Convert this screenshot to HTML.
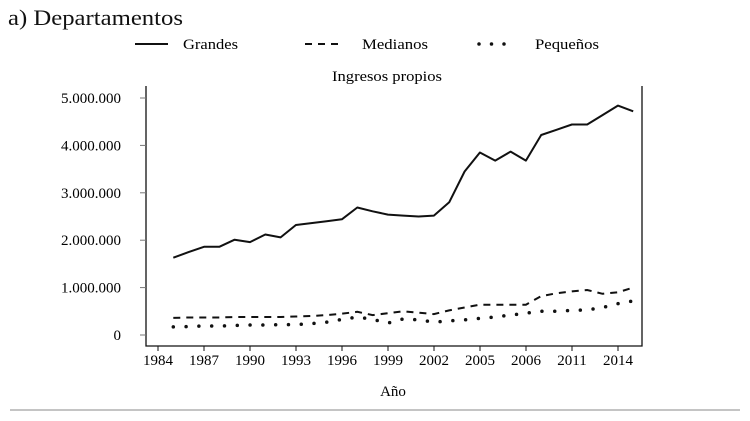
<!DOCTYPE html>
<html><head><meta charset="utf-8"><style>
body{margin:0;background:#fff;width:750px;height:421px;overflow:hidden;font-family:"Liberation Serif",serif}
svg{display:block}
</style></head><body>
<svg id="c" width="750" height="421" font-family="Liberation Serif, serif"></svg>
<script>
const years=[];for(let y=1985;y<=2015;y++)years.push(y);
const grandes=[1.63,1.75,1.86,1.86,2.01,1.96,2.12,2.06,2.32,2.36,2.40,2.44,2.69,2.61,2.54,2.52,2.50,2.52,2.80,3.45,3.85,3.68,3.87,3.68,4.22,4.33,4.44,4.44,4.64,4.84,4.72];
const medianos=[.36,.37,.37,.37,.38,.38,.38,.38,.39,.40,.42,.45,.49,.42,.46,.50,.47,.44,.52,.58,.64,.64,.64,.64,.82,.88,.92,.95,.87,.90,1.00];
const pequenos=[.17,.18,.19,.19,.20,.21,.21,.22,.22,.24,.27,.33,.38,.33,.25,.34,.32,.27,.30,.32,.35,.38,.42,.46,.50,.50,.52,.53,.58,.66,.72];
const xTickLabels=["1984","1987","1990","1993","1996","1999","2002","2005","2006","2011","2014"];
const yTicks=[0,1,2,3,4,5];
const yTickLabels=["0","1.000.000","2.000.000","3.000.000","4.000.000","5.000.000"];
const NS="http://www.w3.org/2000/svg",svg=document.getElementById('c');
function el(t,a,txt){const e=document.createElementNS(NS,t);for(const k in a)e.setAttribute(k,a[k]);if(txt!==undefined)e.textContent=txt;svg.appendChild(e);return e;}
const X=i=>173.3+i*15.33, XT=k=>158+k*46, Y=v=>335-v*47.4;
let e;
e=el('text',{x:8,y:25,'font-size':22,fill:'#111',textLength:175,lengthAdjust:'spacingAndGlyphs'},'a) Departamentos');

e=el('line',{x1:135,y1:44,x2:168,y2:44,stroke:'#111','stroke-width':2});
e=el('text',{x:183,y:49,'font-size':15,textLength:55,lengthAdjust:'spacingAndGlyphs'},'Grandes');
e=el('line',{x1:305,y1:44,x2:342,y2:44,stroke:'#111','stroke-width':2,'stroke-dasharray':'7,6'});
e=el('text',{x:362,y:49,'font-size':15,textLength:66,lengthAdjust:'spacingAndGlyphs'},'Medianos');
e=el('line',{x1:479,y1:44,x2:516,y2:44,stroke:'#111','stroke-width':3.5,'stroke-dasharray':'0,12.5','stroke-linecap':'round'});
e=el('text',{x:535,y:49,'font-size':15,textLength:64,lengthAdjust:'spacingAndGlyphs'},'Pequeños');
e=el('text',{x:332,y:81,'font-size':15,textLength:110,lengthAdjust:'spacingAndGlyphs'},'Ingresos propios');
e=el('polyline',{points:'146,86 146,346 642,346 642,86',fill:'none',stroke:'#111','stroke-width':1.3});
yTicks.forEach((v,i)=>{
 e=el('line',{x1:140,y1:Y(v),x2:146,y2:Y(v),stroke:'#777'});
 e=el('text',{x:121,y:Y(v)+5,'font-size':15,'text-anchor':'end'},yTickLabels[i]);
});
xTickLabels.forEach((l,k)=>{
 e=el('line',{x1:XT(k),y1:346,x2:XT(k),y2:351,stroke:'#111'});
 e=el('text',{x:XT(k),y:365,'font-size':15,'text-anchor':'middle'},l);
});
e=el('text',{x:393,y:396,'font-size':15,'text-anchor':'middle'},'Año');
const pts=a=>a.map((v,i)=>X(i).toFixed(1)+','+Y(v).toFixed(1)).join(' ');
e=el('polyline',{points:pts(grandes),fill:'none',stroke:'#111','stroke-width':2,'stroke-linejoin':'round'});
e=el('polyline',{points:pts(medianos),fill:'none',stroke:'#111','stroke-width':2,'stroke-dasharray':'7,6'});
e=el('polyline',{points:pts(pequenos),fill:'none',stroke:'#111','stroke-width':3.5,'stroke-dasharray':'0,12.8','stroke-linecap':'round'});
e=el('line',{x1:10,y1:410,x2:740,y2:410,stroke:'#888','stroke-width':1});
</script>
</body></html>
